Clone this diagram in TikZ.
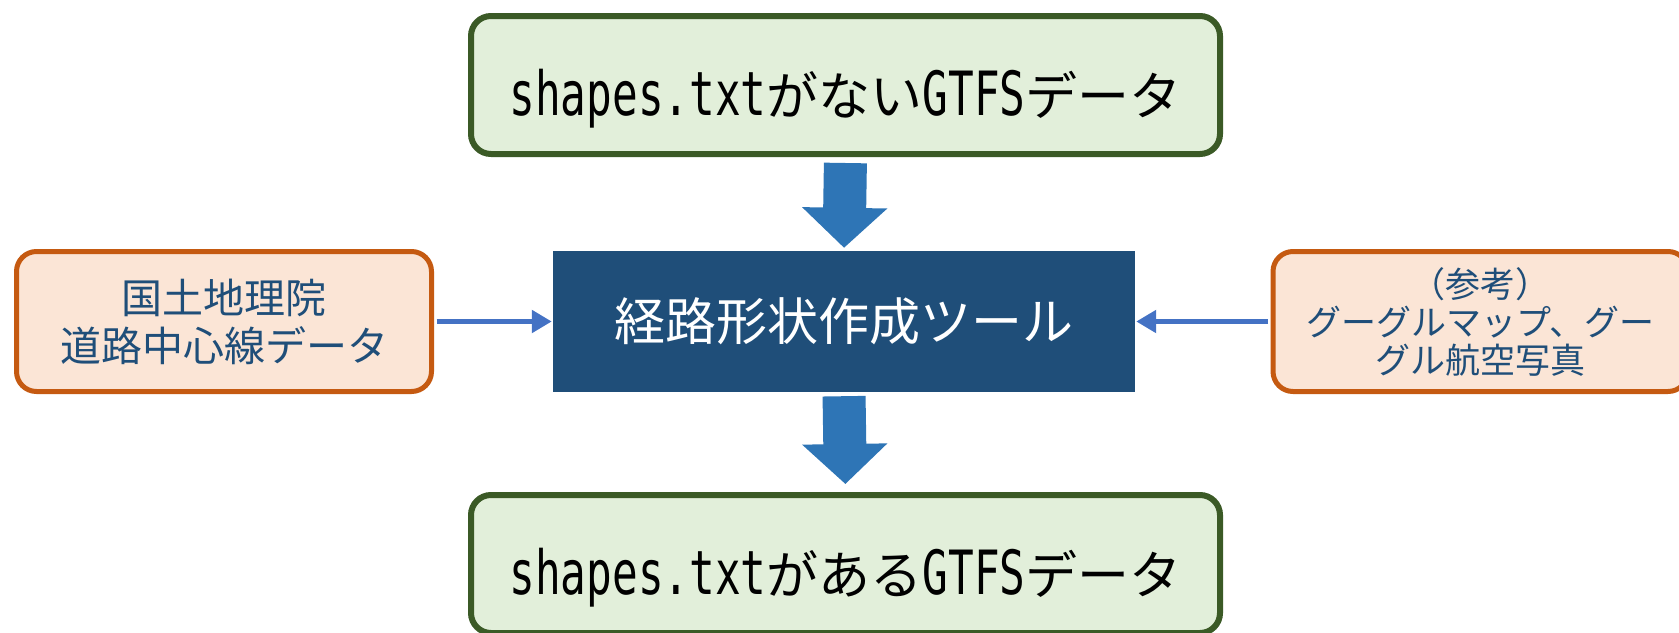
\documentclass[tikz,border=0pt]{standalone}
\usepackage{fontspec}
\usepackage{graphicx}
\setmainfont{Noto Sans CJK JP}
\newfontfamily\latmono{DejaVu Sans Mono}
\usetikzlibrary{arrows.meta}
\definecolor{gfill}{HTML}{E2EFDA}
\definecolor{gdraw}{HTML}{3B5A26}
\definecolor{ofill}{HTML}{FBE5D6}
\definecolor{odraw}{HTML}{C55A11}
\definecolor{navy}{HTML}{1F4E79}
\definecolor{bblue}{HTML}{2E75B6}
\definecolor{lblue}{HTML}{4472C4}
\newcommand\nr[1]{\scalebox{0.7}[1]{\fontsize{61}{70}\latmono #1}}
\tikzset{
  gbox/.style={draw=gdraw, fill=gfill, line width=6pt, rounded corners=20pt,
    minimum width=749pt, minimum height=138pt, inner sep=0pt,
    text height=60pt, text depth=0pt,
    font=\fontsize{52}{62}\selectfont, text=black},
  obox/.style={draw=odraw, fill=ofill, line width=5pt, rounded corners=20pt,
    minimum width=415pt, minimum height=140pt, inner sep=0pt, align=center, text=navy},
  tool/.style={fill=navy, minimum width=582pt, minimum height=141pt, inner sep=0pt,
    text=white, font=\fontsize{51}{60}\selectfont},
  blockarrow/.style={draw=bblue, line width=43pt,
    -{Triangle[width=83pt,length=40pt]}},
  sidearrow/.style={draw=lblue, line width=5.5pt,
    -{Triangle[width=22pt,length=20pt]}}
}
\begin{document}
\begin{tikzpicture}[x=1pt,y=-1pt]
\useasboundingbox (0,0) rectangle (1679,632);
\node[gbox] (top) at (845.5,85) {\nr{shapes.txt}がない\nr{GTFS}データ};
\node[tool] (mid) at (844,321.5) {経路形状作成ツール};
\node[gbox] (bot) at (845.5,564) {\nr{shapes.txt}がある\nr{GTFS}データ};
\node[obox, font=\fontsize{41}{48}\selectfont] (left) at (224,321.5) {国土地理院\\道路中心線データ};
\node[obox, font=\fontsize{35}{38}\selectfont] (right) at (1480.5,321.5) {（参考）\\グーグルマップ、グー\\グル航空写真};
\draw[blockarrow, shorten <=6pt, shorten >=3pt] (top.south) -- (mid.north);
\draw[blockarrow, shorten <=4pt, shorten >=8pt] (mid.south) -- (bot.north);
\draw[sidearrow, shorten <=2.5pt, shorten >=1pt] (left.east) -- (mid.west);
\draw[sidearrow, shorten <=2.5pt, shorten >=1pt] (right.west) -- (mid.east);
\end{tikzpicture}
\end{document}
